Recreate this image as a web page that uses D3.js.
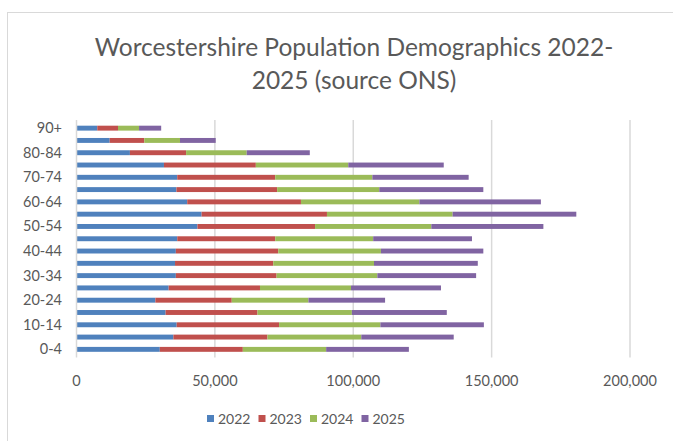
<!DOCTYPE html>
<html>
<head>
<meta charset="utf-8">
<script src="https://cdn.jsdelivr.net/npm/d3@7"></script>
<style>
  body { margin: 0; background: #fff; }
  text { font-family: Lato, 'Open Sans', sans-serif; fill: #595959; }
</style>
</head>
<body>
<script>
const width = 673;
const height = 441;

// age groups, bottom to top
const ageGroups = ['0-4', '5-9', '10-14', '15-19', '20-24', '25-29', '30-34', '35-39', '40-44',
  '45-49', '50-54', '55-59', '60-64', '65-69', '70-74', '75-79', '80-84', '85-89', '90+'];
const years = ['2022', '2023', '2024', '2025'];

// population (thousands) per age group, one array per year
const pop2022 = [30.1, 35.0, 36.2, 32.2, 28.5, 33.3, 35.9, 35.6, 35.9, 36.4, 43.7, 45.2, 40.0, 36.1, 36.4, 31.6, 19.3, 12.0, 7.5];
const pop2023 = [30.0, 34.0, 37.0, 33.2, 27.6, 33.0, 36.4, 35.5, 37.0, 35.4, 42.5, 45.3, 41.1, 36.4, 35.4, 33.2, 20.3, 12.5, 7.5];
const pop2024 = [30.1, 33.9, 36.6, 34.1, 27.7, 32.9, 36.4, 36.4, 37.1, 35.4, 42.0, 45.4, 42.8, 36.9, 35.1, 33.4, 21.9, 12.9, 7.6];
const pop2025 = [29.9, 33.4, 37.4, 34.3, 27.7, 32.5, 35.7, 37.5, 37.0, 35.7, 40.5, 44.7, 43.9, 37.6, 34.8, 34.5, 22.8, 12.9, 8.0];

const xTicks = [0, 50000, 100000, 150000, 200000];
const colors = ['#4F81BD', '#C0504D', '#9BBB59', '#8064A2'];

const table = ageGroups.map((a, i) => ({
  age: a,
  '2022': pop2022[i] * 1000,
  '2023': pop2023[i] * 1000,
  '2024': pop2024[i] * 1000,
  '2025': pop2025[i] * 1000
}));

const margin = { left: 76.5, right: 43, top: 122, bottom: 85.5 };

const svg = d3.select('body').append('svg')
  .attr('width', width)
  .attr('height', height);

// chart frame
svg.append('rect')
  .attr('x', 7.5).attr('y', 12.5)
  .attr('width', 700).attr('height', 460)
  .attr('fill', '#fff')
  .attr('stroke', '#d9d9d9');

svg.append('text')
  .attr('x', 354).attr('y', 56)
  .attr('text-anchor', 'middle')
  .style('font-size', '24.5px')
  .text('Worcestershire Population Demographics 2022-');
svg.append('text')
  .attr('x', 354).attr('y', 89)
  .attr('text-anchor', 'middle')
  .style('font-size', '24.5px')
  .text('2025 (source ONS)');

const x = d3.scaleLinear()
  .domain([0, 200000])
  .range([margin.left, width - margin.right]);

const y = d3.scaleBand()
  .domain(ageGroups.slice().reverse())
  .range([margin.top, height - margin.bottom])
  .paddingInner(0.6)
  .paddingOuter(0.3);

// gridlines
svg.append('g')
  .selectAll('line')
  .data(xTicks.slice(1))
  .enter().append('line')
  .attr('x1', d => x(d)).attr('x2', d => x(d))
  .attr('y1', margin.top - 2).attr('y2', height - margin.bottom + 2)
  .attr('stroke', '#d9d9d9')
  .attr('stroke-width', 1.5);

const stack = d3.stack().keys(years)(table);

svg.append('g')
  .selectAll('g')
  .data(stack)
  .enter().append('g')
  .attr('fill', (d, i) => colors[i])
  .selectAll('rect')
  .data(d => d)
  .enter().append('rect')
  .attr('x', d => x(d[0]))
  .attr('width', d => x(d[1]) - x(d[0]))
  .attr('y', d => y(d.data.age))
  .attr('height', y.bandwidth());

// vertical axis line
svg.append('line')
  .attr('x1', x(0)).attr('x2', x(0))
  .attr('y1', margin.top - 2).attr('y2', height - margin.bottom + 2)
  .attr('stroke', '#d9d9d9')
  .attr('stroke-width', 1.5);

// category labels (every other one)
svg.append('g')
  .selectAll('text')
  .data(ageGroups.filter((d, i) => i % 2 === 0))
  .enter().append('text')
  .attr('x', 62)
  .attr('y', d => y(d) + y.bandwidth() / 2 + 5)
  .attr('text-anchor', 'end')
  .style('font-size', '14.5px')
  .text(d => d);

// value labels
svg.append('g')
  .selectAll('text')
  .data(xTicks)
  .enter().append('text')
  .attr('x', d => x(d))
  .attr('y', 386)
  .attr('text-anchor', 'middle')
  .style('font-size', '14.5px')
  .text(d => d3.format(',')(d));

// legend
const legend = svg.append('g')
  .selectAll('g')
  .data(years)
  .enter().append('g')
  .attr('transform', (d, i) => `translate(${207 + i * 51.5},0)`);

legend.append('rect')
  .attr('x', 0).attr('y', 415)
  .attr('width', 7).attr('height', 7)
  .attr('fill', (d, i) => colors[i]);

legend.append('text')
  .attr('x', 11).attr('y', 424)
  .style('font-size', '14px')
  .text(d => d);
</script>
</body>
</html>
